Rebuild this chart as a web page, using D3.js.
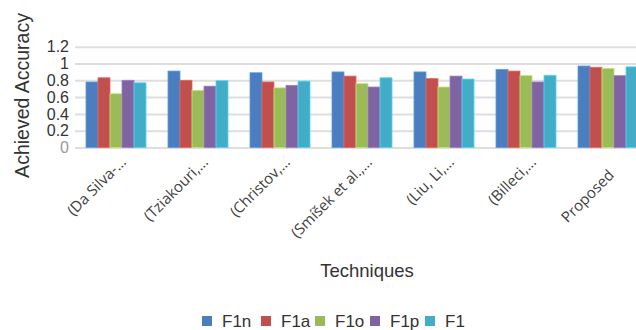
<!DOCTYPE html>
<html>
<head>
<meta charset="utf-8">
<script src="https://cdn.jsdelivr.net/npm/d3@7"></script>
<style>
  html, body { margin: 0; padding: 0; background: #fff; }
  svg { display: block; }
</style>
</head>
<body>
<svg id="chart" width="636" height="330"></svg>
<script>
// Techniques compared (labels as shown on the category axis)
const categories = ["(Da Silva-…", "(Tziakouri,…", "(Christov,…", "(Smíšek et al.,…", "(Liu, Li,…", "(Billeci,…", "Proposed"];
const seriesNames = ["F1n", "F1a", "F1o", "F1p", "F1"];
const seriesColors = ["#4a7ebf", "#c0504d", "#9bbb59", "#8064a2", "#43acc7"];

// Accuracy per technique, one array per metric
const F1n = [0.78, 0.91, 0.89, 0.90, 0.90, 0.93, 0.97];
const F1a = [0.83, 0.80, 0.78, 0.85, 0.82, 0.91, 0.955];
const F1o = [0.64, 0.68, 0.71, 0.76, 0.72, 0.855, 0.94];
const F1p = [0.80, 0.73, 0.74, 0.72, 0.85, 0.78, 0.855];
const F1  = [0.77, 0.795, 0.79, 0.83, 0.815, 0.86, 0.96];
const seriesValues = [F1n, F1a, F1o, F1p, F1];

const yTicks = [0, 0.2, 0.4, 0.6, 0.8, 1, 1.2];

const svg = d3.select("#chart");
const plotLeft = 75, plotBottom = 147.5, plotTop = 46.7;
const step = 82;

const x0 = d3.scaleBand()
  .domain(categories)
  .range([plotLeft, plotLeft + step * categories.length])
  .paddingInner(0.268)
  .paddingOuter(0.134);

const x1 = d3.scaleBand()
  .domain(seriesNames)
  .range([0, x0.bandwidth()]);

const y = d3.scaleLinear().domain([0, 1.2]).range([plotBottom, plotTop]);

// horizontal gridlines with value labels
const yAxis = d3.axisLeft(y)
  .tickValues(yTicks)
  .tickFormat(d => d3.format("~g")(d))
  .tickSize(-(636 - plotLeft))
  .tickPadding(6);

const gy = svg.append("g")
  .attr("transform", `translate(${plotLeft},0)`)
  .call(yAxis);
gy.select(".domain").remove();
gy.selectAll(".tick line")
  .attr("stroke", "#dedede")
  .attr("stroke-width", 2);
gy.selectAll(".tick text")
  .attr("font-family", "Liberation Sans, Arial, sans-serif")
  .attr("font-size", 16)
  .attr("fill", d => d === 0 ? "#9a9a9a" : "#333");

// grouped bars
const rows = categories.map((c, i) => ({
  cat: c,
  vals: seriesNames.map((s, k) => ({ key: s, value: seriesValues[k][i], color: seriesColors[k] }))
}));

const groups = svg.append("g").selectAll("g")
  .data(rows)
  .join("g")
  .attr("transform", d => `translate(${x0(d.cat)},0)`);

groups.selectAll("rect")
  .data(d => d.vals)
  .join("rect")
  .attr("x", d => x1(d.key))
  .attr("y", d => y(d.value))
  .attr("width", x1.bandwidth())
  .attr("height", d => y(0) - y(d.value))
  .attr("fill", d => d.color)
  .attr("stroke", d => d3.color(d.color).brighter(0.6))
  .attr("stroke-width", 0.8);

// rotated category labels; the untruncated last label sits a little lower
svg.append("g").selectAll("text")
  .data(categories)
  .join("text")
  .attr("transform", (d, i) => {
    const cx = x0(d) + x0.bandwidth() / 2;
    return i === categories.length - 1
      ? `translate(${cx + 7},176) rotate(-45)`
      : `translate(${cx + 11},163) rotate(-45)`;
  })
  .attr("text-anchor", "end")
  .attr("font-family", "Open Sans, sans-serif")
  .attr("font-size", 15)
  .attr("fill", "#404040")
  .text(d => d);

// axis titles
svg.append("text")
  .attr("transform", "translate(29,95.5) rotate(-90)")
  .attr("text-anchor", "middle")
  .attr("font-family", "Liberation Sans, Arial, sans-serif")
  .attr("font-size", 19.5)
  .attr("fill", "#333")
  .text("Achieved Accuracy");

svg.append("text")
  .attr("x", 367)
  .attr("y", 277)
  .attr("text-anchor", "middle")
  .attr("font-family", "Liberation Sans, Arial, sans-serif")
  .attr("font-size", 18.5)
  .attr("fill", "#333")
  .text("Techniques");

// legend
const legendX = [202, 261, 315, 370, 425];
const legend = svg.append("g").selectAll("g")
  .data(seriesNames)
  .join("g")
  .attr("transform", (d, i) => `translate(${legendX[i]},316)`);
legend.append("rect")
  .attr("width", 10).attr("height", 10)
  .attr("fill", (d, i) => seriesColors[i]);
legend.append("text")
  .attr("x", 20).attr("y", 10.5)
  .attr("font-family", "Liberation Sans, Arial, sans-serif")
  .attr("font-size", 17)
  .attr("fill", "#333")
  .text(d => d);
</script>
</body>
</html>
